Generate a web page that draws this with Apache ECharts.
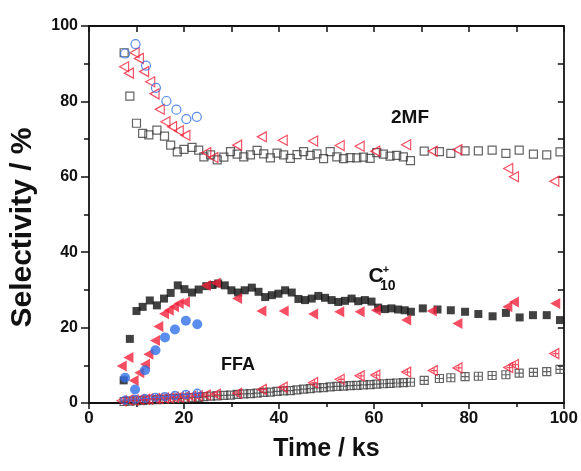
<!DOCTYPE html>
<html>
<head>
<meta charset="utf-8">
<script src="https://cdn.jsdelivr.net/npm/echarts@6/dist/echarts.min.js"></script>
<style>
  html, body { margin: 0; padding: 0; background: #fff; }
  #chart { width: 581px; height: 471px; }
</style>
</head>
<body>
<div id="chart"></div>
<script>
// Selectivity over time-on-stream: 2MF, C10+ and FFA, three catalysts each
const xTicks = [0, 20, 40, 60, 80, 100];
const yTicks = [0, 20, 40, 60, 80, 100];

// 2MF (open symbols)
const mf2Squares = [
  [7.4, 92.9], [8.6, 81.4], [10.0, 74.2], [11.3, 71.5], [12.6, 71.1], [14.3, 72.4], [15.9, 70.8],
  [17.2, 68.4], [18.6, 66.6], [20.0, 67.3], [21.7, 67.8], [23.1, 67.1], [24.2, 65.3], [25.6, 65.8],
  [27.0, 64.5], [28.4, 65.2], [29.8, 66.7], [31.2, 66.0], [32.6, 65.3], [34.0, 65.8], [35.4, 67.0],
  [36.8, 66.1], [38.2, 65.0], [39.6, 66.3], [41.0, 65.8], [42.4, 64.9], [43.8, 65.9], [45.2, 66.7],
  [46.6, 65.7], [48.0, 66.1], [49.4, 64.8], [50.8, 66.7], [52.2, 65.3], [53.6, 64.8], [55.0, 65.1],
  [56.4, 65.0], [57.8, 65.2], [59.2, 64.9], [60.6, 66.4], [62.0, 66.0], [63.4, 65.5], [64.8, 65.7],
  [66.2, 65.3], [67.7, 64.3], [70.6, 66.8], [73.8, 66.7], [76.2, 66.2], [79.2, 66.9], [82.0, 66.9],
  [84.9, 67.1], [87.8, 66.2], [90.6, 67.1], [93.6, 66.0], [96.4, 65.8], [99.2, 66.6]
];
const mf2Triangles = [
  [7.4, 89.2], [8.4, 87.5], [9.6, 92.9], [10.5, 91.4], [11.6, 87.9], [12.9, 85.2], [13.8, 82.0],
  [14.9, 77.9], [16.1, 74.6], [17.5, 73.3], [18.9, 72.2], [20.3, 71.0], [24.7, 66.4], [26.2, 65.1],
  [31.2, 68.4], [36.4, 70.6], [40.8, 69.7], [47.2, 69.5], [52.8, 68.3], [57.0, 68.1], [60.3, 66.8],
  [66.8, 68.5], [72.4, 66.8], [77.6, 67.2], [88.3, 62.2], [89.5, 60.0], [98.0, 58.8]
];
const mf2Circles = [
  [7.6, 92.7], [9.8, 95.2], [12.0, 89.5], [14.1, 83.6], [16.3, 80.1], [18.4, 77.8], [20.5, 75.3], [22.7, 75.9]
];

// C10+ (filled symbols)
const c10Squares = [
  [7.3, 6.0], [8.6, 17.0], [10.0, 24.4], [11.3, 25.5], [12.8, 27.2], [14.3, 25.9], [15.8, 27.7],
  [17.2, 29.2], [18.7, 31.2], [20.1, 30.2], [21.7, 29.3], [23.1, 30.1], [24.7, 31.0], [26.0, 31.3],
  [27.2, 31.7], [28.6, 31.2], [30.0, 29.9], [31.4, 29.3], [32.8, 29.9], [34.3, 30.6], [35.7, 29.5],
  [37.1, 28.1], [38.5, 28.6], [39.9, 29.0], [41.3, 29.9], [42.7, 29.3], [44.1, 27.6], [45.5, 27.3],
  [46.9, 27.7], [48.3, 28.4], [49.7, 27.9], [51.1, 27.3], [52.5, 26.8], [53.9, 27.1], [55.3, 27.7],
  [56.7, 27.0], [58.1, 27.3], [59.5, 26.9], [60.9, 25.3], [62.3, 24.9], [63.7, 25.1], [65.1, 24.8],
  [66.5, 24.6], [67.8, 24.2], [70.3, 25.1], [73.4, 24.8], [76.2, 24.6], [79.2, 24.2], [82.0, 23.6],
  [85.0, 23.0], [87.8, 23.9], [90.7, 22.7], [93.5, 23.3], [96.4, 23.3], [99.2, 22.0]
];
const c10Triangles = [
  [6.9, 9.8], [8.3, 12.1], [9.4, 6.0], [10.6, 8.0], [11.8, 10.3], [12.5, 12.9], [13.9, 16.6],
  [14.6, 20.3], [15.8, 23.7], [16.8, 24.6], [17.9, 25.5], [18.9, 26.4], [20.2, 26.8], [24.6, 31.2],
  [26.7, 31.8], [31.2, 27.7], [36.3, 24.4], [41.0, 24.4], [47.2, 23.6], [52.7, 24.2], [57.0, 24.2],
  [60.4, 24.6], [66.8, 22.0], [72.2, 24.4], [77.6, 21.1], [88.1, 25.5], [89.5, 26.8], [98.2, 26.4]
];
const c10Circles = [
  [7.6, 6.7], [9.7, 3.6], [11.8, 8.7], [14.0, 14.0], [16.0, 17.4], [18.1, 19.5], [20.4, 21.8], [22.8, 20.9]
];

// FFA (crossed symbols)
const ffaSquares = [
  [7.4, 0.4], [8.6, 0.5], [10.0, 0.6], [11.3, 0.7], [12.6, 0.8], [14.3, 0.9], [15.9, 1.0],
  [17.2, 1.1], [18.6, 1.2], [20.0, 1.3], [21.7, 1.4], [23.1, 1.5], [24.2, 1.7], [25.6, 1.8],
  [27.0, 1.9], [28.4, 2.0], [29.8, 2.1], [31.2, 2.3], [32.6, 2.4], [34.0, 2.5], [35.4, 2.6],
  [36.8, 2.8], [38.2, 2.9], [39.6, 3.1], [41.0, 3.2], [42.4, 3.3], [43.8, 3.5], [45.2, 3.7],
  [46.6, 3.8], [48.0, 4.0], [49.4, 4.1], [50.8, 4.3], [52.2, 4.4], [53.6, 4.5], [55.0, 4.6],
  [56.4, 4.7], [57.8, 4.8], [59.2, 4.9], [60.6, 5.0], [62.0, 5.1], [63.4, 5.2], [64.8, 5.3],
  [66.2, 5.4], [67.7, 5.5], [70.6, 6.0], [73.8, 6.5], [76.2, 6.7], [79.2, 7.0], [82.0, 7.1],
  [84.9, 7.3], [87.8, 7.5], [90.6, 7.9], [93.6, 8.1], [96.4, 8.3], [99.2, 8.9]
];
const ffaTriangles = [
  [6.9, 0.6], [8.3, 0.8], [9.4, 0.8], [10.6, 0.9], [11.8, 1.0], [12.5, 1.1], [13.9, 1.2],
  [14.6, 1.2], [15.8, 1.3], [16.8, 1.4], [17.9, 1.5], [18.9, 1.6], [20.2, 1.7], [21.5, 1.8],
  [22.9, 1.9], [24.6, 2.1], [26.7, 2.3], [31.2, 2.6], [36.4, 3.6], [40.8, 4.2], [47.2, 5.4],
  [52.8, 6.3], [57.0, 7.2], [60.3, 7.4], [66.8, 8.2], [72.4, 8.6], [77.6, 9.3], [88.3, 9.4],
  [89.5, 10.2], [98.0, 13.1]
];
const ffaCircles = [
  [7.6, 0.8], [9.7, 1.0], [11.8, 1.2], [14.0, 1.5], [16.0, 1.7], [18.1, 2.0], [20.4, 2.3], [22.8, 2.6]
];

const BLACK = '#111111';
const GREY = '#3c3c3c';
const RED = '#f2203a';
const BLUE = '#2f6fe8';
const FONT = 'Liberation Sans, Arial, sans-serif';

const triLeft = 'path://M10,0 L0,5 L10,10 Z';
const squareCross = 'path://M0,0 L10,0 L10,10 L0,10 Z M5,0 L5,10 M0,5 L10,5';
const triCross = 'path://M10,0 L0,5 L10,10 Z M3,5 L10,5 M6.5,1.8 L6.5,8.2';
const circleCross = 'path://M0,5 A5,5 0 1,1 10,5 A5,5 0 1,1 0,5 Z M5,0 L5,10 M0,5 L10,5';

function openSeries(data, symbol, size, color) {
  return {
    type: 'scatter', data, symbol, symbolSize: size, silent: true,
    itemStyle: { color: 'rgba(0,0,0,0)', borderColor: color, borderWidth: 1.2 }
  };
}
function filledSeries(data, symbol, size, color) {
  return {
    type: 'scatter', data, symbol, symbolSize: size, silent: true,
    itemStyle: { color: color, borderWidth: 0 }
  };
}

const chart = echarts.init(document.getElementById('chart'), null, { renderer: 'canvas' });

const axisLine = { show: true, onZero: false, lineStyle: { color: '#111', width: 1.8 } };
const labelStyle = { color: '#111', fontWeight: 'bold', fontFamily: FONT };

chart.setOption({
  animation: false,
  backgroundColor: '#fff',
  grid: { left: 88, right: 16, top: 26, bottom: 68, containLabel: false },
  xAxis: [
    {
      type: 'value', position: 'bottom', min: xTicks[0], max: xTicks[xTicks.length - 1], interval: 20,
      name: 'Time / ks', nameLocation: 'middle', nameGap: 34,
      nameTextStyle: { color: '#111', fontWeight: 'bold', fontSize: 25, fontFamily: FONT },
      axisLine,
      axisTick: { show: true, inside: false, length: 6, lineStyle: { color: '#111', width: 1.5 } },
      minorTick: { show: true, splitNumber: 2, length: 4, lineStyle: { color: '#111', width: 1.5 } },
      axisLabel: Object.assign({ fontSize: 17, margin: 7 }, labelStyle),
      splitLine: { show: false }
    },
    {
      type: 'value', position: 'top', min: 0, max: 100, interval: 10,
      axisLine,
      axisTick: { show: true, inside: true, length: 6, lineStyle: { color: '#111', width: 1.5 } },
      axisLabel: { show: false }, splitLine: { show: false }
    }
  ],
  yAxis: [
    {
      type: 'value', position: 'left', min: yTicks[0], max: yTicks[yTicks.length - 1], interval: 20,
      name: 'Selectivity / %', nameLocation: 'middle', nameGap: 51,
      nameTextStyle: { color: '#111', fontWeight: 'bold', fontSize: 30, fontFamily: FONT, padding: [0, 26, 0, 0] },
      axisLine,
      axisTick: { show: true, inside: false, length: 8, lineStyle: { color: '#111', width: 1.5 } },
      minorTick: { show: true, splitNumber: 2, length: 5, lineStyle: { color: '#111', width: 1.5 } },
      axisLabel: Object.assign({ fontSize: 16, margin: 11 }, labelStyle),
      splitLine: { show: false }
    },
    {
      type: 'value', position: 'right', min: 0, max: 100, interval: 10,
      axisLine,
      axisTick: { show: true, inside: true, length: 6, lineStyle: { color: '#111', width: 1.5 } },
      axisLabel: { show: false }, splitLine: { show: false }
    }
  ],
  series: [
    openSeries(mf2Squares, 'rect', 8, GREY),
    filledSeries(c10Squares, 'rect', 8, BLACK),
    openSeries(ffaSquares, squareCross, 8, GREY),
    openSeries(mf2Triangles, triLeft, [9, 10], RED),
    filledSeries(c10Triangles, triLeft, [10, 11], RED),
    openSeries(ffaTriangles, triCross, [9, 10], RED),
    openSeries(mf2Circles, 'circle', 9, BLUE),
    filledSeries(c10Circles, 'circle', 10, BLUE),
    openSeries(ffaCircles, circleCross, 8, BLUE)
  ]
});

// Product labels placed beside each group of curves
const labelFont = (size) => 'bold ' + size + 'px ' + FONT;
chart.setOption({
  graphic: [
    { type: 'text', x: 410, y: 118, style: { text: '2MF', font: labelFont(19), fill: '#111', align: 'center', verticalAlign: 'middle' } },
    { type: 'text', x: 376, y: 276, style: { text: 'C', font: labelFont(21), fill: '#111', align: 'center', verticalAlign: 'middle' } },
    { type: 'text', x: 386, y: 270, style: { text: '+', font: labelFont(11), fill: '#111', align: 'center', verticalAlign: 'middle' } },
    { type: 'text', x: 380, y: 286, style: { text: '10', font: labelFont(14), fill: '#111', align: 'left', verticalAlign: 'middle' } },
    { type: 'text', x: 238, y: 365, style: { text: 'FFA', font: labelFont(18), fill: '#111', align: 'center', verticalAlign: 'middle' } }
  ]
});
</script>
</body>
</html>
